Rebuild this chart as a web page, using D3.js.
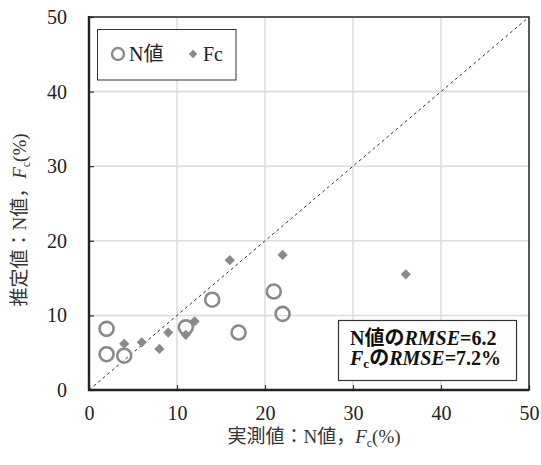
<!DOCTYPE html>
<html><head><meta charset="utf-8">
<script src="https://cdn.jsdelivr.net/npm/d3@7"></script>
<style>body{margin:0;background:#fff}svg{display:block}</style>
</head><body>
<svg id="c" width="541" height="465"></svg>
<script>
const nX = [2, 2, 4, 11, 14, 17, 21, 22];
const nY = [8.2, 4.8, 4.6, 8.4, 12.1, 7.7, 13.2, 10.2];
const fcX = [4, 6, 8, 9, 11, 12, 16, 22, 36];
const fcY = [6.2, 6.4, 5.5, 7.7, 7.4, 9.2, 17.4, 18.1, 15.5];
const ticks = [0, 10, 20, 30, 40, 50];

const svg = d3.select("#c");
const L = 89, R = 529, T = 17, B = 390;
const x = d3.scaleLinear().domain([0, 50]).range([L, R]);
const y = d3.scaleLinear().domain([0, 50]).range([B, T]);
const serif = "'Liberation Serif', 'Times New Roman', serif";
const cjk = "'Liberation Serif', 'Noto Sans CJK JP', serif";

// grid
svg.append("g").selectAll("line").data(ticks.slice(1, -1)).join("line")
  .attr("x1", d => x(d)).attr("x2", d => x(d)).attr("y1", T).attr("y2", B)
  .attr("stroke", "#dcdcdc").attr("stroke-width", 1.5);
svg.append("g").selectAll("line").data(ticks.slice(1, -1)).join("line")
  .attr("y1", d => y(d)).attr("y2", d => y(d)).attr("x1", L).attr("x2", R)
  .attr("stroke", "#dcdcdc").attr("stroke-width", 1.5);

// axes
const xa = svg.append("g").attr("transform", `translate(0,${B})`)
  .call(d3.axisBottom(x).tickValues(ticks).tickSize(-5).tickPadding(16));
const ya = svg.append("g").attr("transform", `translate(${L},0)`)
  .call(d3.axisLeft(y).tickValues(ticks).tickSize(-5).tickPadding(22));
[xa, ya].forEach(a => {
  a.attr("font-family", null).attr("font-size", null);
  a.select(".domain").remove();
  a.selectAll(".tick line").attr("stroke", "#333").attr("stroke-width", 1.2);
  a.selectAll(".tick text").style("font-family", serif).style("font-size", "20px").attr("fill", "#222");
});

// frame
svg.append("rect").attr("x", L).attr("y", T).attr("width", R - L).attr("height", B - T)
  .attr("fill", "none").attr("stroke", "#222").attr("stroke-width", 1.5);
svg.append("line").attr("x1", L).attr("x2", L).attr("y1", T - 1).attr("y2", B + 1).attr("stroke", "#222").attr("stroke-width", 2.4);
svg.append("line").attr("x1", L - 1).attr("x2", R).attr("y1", B).attr("y2", B).attr("stroke", "#222").attr("stroke-width", 2.4);

// 1:1 line
svg.append("line").attr("x1", x(0)).attr("y1", y(0)).attr("x2", x(50)).attr("y2", y(50))
  .attr("stroke", "#333").attr("stroke-width", 1).attr("stroke-dasharray", "3,3");

// points
const gray = "#8a8a8a";
svg.append("g").selectAll("circle").data(nX.map((v, i) => [v, nY[i]])).join("circle")
  .attr("cx", d => x(d[0])).attr("cy", d => y(d[1])).attr("r", 7)
  .attr("fill", "none").attr("stroke", gray).attr("stroke-width", 2.6);
svg.append("g").selectAll("path").data(fcX.map((v, i) => [v, fcY[i]])).join("path")
  .attr("d", d3.symbol().type(d3.symbolSquare).size(52)())
  .attr("transform", d => `translate(${x(d[0])},${y(d[1])}) rotate(45)`)
  .attr("fill", gray);

// legend
svg.append("rect").attr("x", 97.5).attr("y", 29.5).attr("width", 138.5).attr("height", 50.5)
  .attr("fill", "#fff").attr("stroke", "#333").attr("stroke-width", 1);
svg.append("circle").attr("cx", 118).attr("cy", 54).attr("r", 6).attr("fill", "none").attr("stroke", gray).attr("stroke-width", 2.4);
svg.append("text").attr("x", 129).attr("y", 61).style("font-family", cjk).style("font-size", "20px").attr("fill", "#222").text("N値");
svg.append("path").attr("d", d3.symbol().type(d3.symbolSquare).size(36)())
  .attr("transform", "translate(193,54) rotate(45)").attr("fill", gray);
svg.append("text").attr("x", 203).attr("y", 61).style("font-family", serif).style("font-size", "20px").attr("fill", "#222").text("Fc");

// RMSE box
svg.append("rect").attr("x", 338.5).attr("y", 320.5).attr("width", 178).attr("height", 60)
  .attr("fill", "#fff").attr("stroke", "#333").attr("stroke-width", 1.2);
const t1 = svg.append("text").attr("x", 350).attr("y", 345).style("font-family", cjk)
  .style("font-size", "20px").attr("font-weight", "bold").attr("fill", "#111");
t1.append("tspan").text("N値の");
t1.append("tspan").attr("font-style", "italic").style("font-family", serif).text("RMSE");
t1.append("tspan").style("font-family", serif).text("=6.2");
const t2 = svg.append("text").attr("x", 350).attr("y", 365).style("font-family", serif)
  .style("font-size", "20px").attr("font-weight", "bold").attr("fill", "#111");
t2.append("tspan").attr("font-style", "italic").text("F");
t2.append("tspan").style("font-size", "13px").attr("dy", 3).text("c");
t2.append("tspan").attr("dy", -3).style("font-family", cjk).text("の");
t2.append("tspan").attr("font-style", "italic").text("RMSE");
t2.append("tspan").text("=7.2%");

// axis titles
function title(sel) {
  sel.style("font-family", cjk).style("font-size", "19px").attr("fill", "#333").attr("text-anchor", "middle");
  sel.append("tspan").text("N値，");
  sel.append("tspan").attr("font-style", "italic").style("font-family", serif).text("F");
  sel.append("tspan").style("font-family", serif).style("font-size", "12px").attr("dy", 4).text("c");
  sel.append("tspan").style("font-family", serif).attr("dy", -4).text("(%)");
}
const xt = svg.append("text").attr("x", 314).attr("y", 443);
xt.append("tspan").text("実測値：");
title(xt);
const yt = svg.append("text").attr("transform", "translate(26,220) rotate(-90)");
yt.append("tspan").text("推定値：");
title(yt);
</script>
</body></html>
